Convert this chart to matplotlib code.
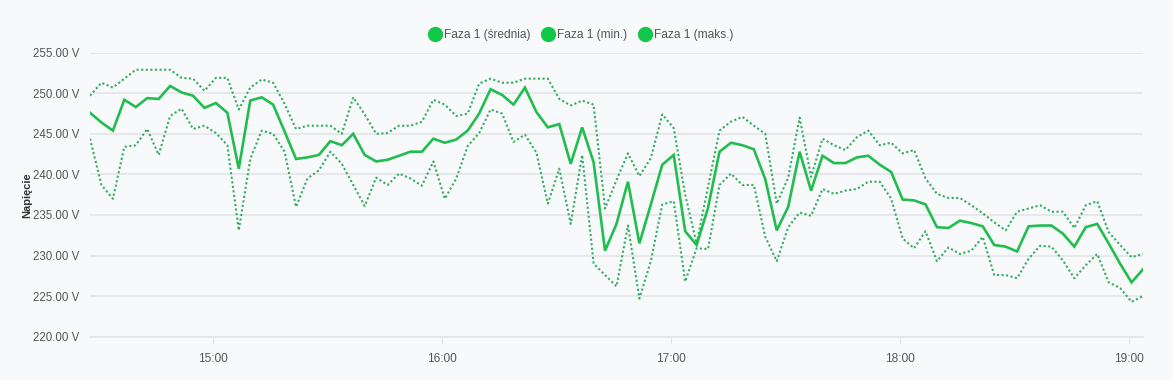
import matplotlib
matplotlib.use("Agg")
import matplotlib.pyplot as plt
from matplotlib.lines import Line2D
import pandas as pd

start_time = "2024-01-01 14:27:42"
n_points = 93
times = pd.date_range(start=start_time, periods=n_points, freq="3min")

mean_v = [247.6, 246.4, 245.4, 249.2, 248.3, 249.4, 249.3, 250.9, 250.1, 249.7,
          248.2, 248.8, 247.6, 240.7, 249.1, 249.5, 248.6, 245.3, 241.9, 242.1,
          242.4, 244.1, 243.6, 245.0, 242.4, 241.6, 241.8, 242.3, 242.8, 242.8,
          244.4, 243.9, 244.3, 245.4, 247.5, 250.5, 249.8, 248.6, 250.7, 247.7,
          245.8, 246.2, 241.3, 245.8, 241.5, 230.6, 233.9, 239.1, 231.5, 236.3,
          241.2, 242.4, 233.0, 231.3, 235.9, 242.8, 243.9, 243.6, 243.1, 239.4,
          233.1, 236.0, 242.8, 238.0, 242.3, 241.4, 241.4, 242.1, 242.3, 241.2,
          240.3, 236.9, 236.8, 236.3, 233.5, 233.4, 234.3, 234.0, 233.6, 231.3,
          231.1, 230.5, 233.6, 233.7, 233.7, 232.7, 231.1, 233.5, 233.9, 231.5,
          229.0, 226.7, 228.3]

max_v = [249.7, 251.3, 250.7, 251.8, 252.9, 252.9, 252.9, 252.9, 251.9, 251.8,
         250.3, 251.9, 251.9, 248.0, 250.7, 251.7, 251.3, 248.7, 245.6, 246.0,
         246.0, 246.0, 245.0, 249.5, 247.4, 245.0, 245.1, 246.0, 246.0, 246.5,
         249.2, 248.6, 247.2, 247.5, 251.2, 251.8, 251.3, 251.3, 251.8, 251.8,
         251.8, 249.3, 248.5, 249.1, 248.6, 235.8, 239.3, 242.6, 239.8, 242.0,
         247.4, 245.7, 237.5, 231.5, 238.5, 245.4, 246.5, 247.1, 246.0, 245.0,
         236.4, 239.6, 247.0, 239.7, 244.4, 243.6, 243.0, 244.6, 245.4, 243.6,
         243.9, 242.6, 243.0, 239.5, 237.6, 237.1, 237.1, 236.2, 235.2, 234.1,
         233.1, 235.4, 235.8, 236.2, 235.4, 235.4, 233.4, 236.2, 236.7, 232.9,
         231.3, 229.8, 230.2]

min_v = [244.4, 238.7, 237.0, 243.4, 243.6, 245.6, 242.4, 247.2, 248.1, 245.6,
         246.0, 245.1, 243.6, 233.1, 241.9, 245.4, 245.0, 242.8, 236.0, 239.5,
         240.5, 242.8, 241.3, 238.7, 236.1, 239.6, 238.7, 240.1, 239.5, 238.6,
         241.6, 237.0, 239.5, 243.5, 245.1, 248.0, 247.5, 244.0, 244.9, 242.7,
         236.4, 240.7, 233.9, 242.4, 229.0, 227.6, 226.2, 233.7, 224.7, 229.3,
         236.3, 236.7, 226.8, 230.9, 230.8, 238.7, 240.1, 238.7, 238.7, 232.3,
         229.3, 233.5, 235.3, 234.9, 238.2, 237.6, 238.0, 238.2, 239.1, 239.1,
         237.0, 232.1, 230.9, 233.0, 229.3, 231.0, 230.2, 230.6, 232.3, 227.6,
         227.6, 227.2, 229.6, 231.2, 231.1, 229.4, 227.2, 228.8, 230.2, 226.7,
         226.0, 224.3, 225.0]

series_labels = ["Faza 1 (średnia)", "Faza 1 (min.)", "Faza 1 (maks.)"]
y_ticks = [220, 225, 230, 235, 240, 245, 250, 255]
x_tick_labels = ["15:00", "16:00", "17:00", "18:00", "19:00"]
y_title = "Napięcie"

plt.rcParams['font.family'] = ['Liberation Sans', 'DejaVu Sans']

bg = "#f8f9fb"
line_col = "#22bd4f"
dot_col = "#2fae5c"
legend_col = "#12c84a"

fig = plt.figure(figsize=(11.73, 3.8), dpi=100, facecolor=bg)
ax = fig.add_axes([90/1173, 1-336.7/380, (1143-90)/1173, (336.7-52.7)/380])
ax.set_facecolor(bg)

ax.plot(times, max_v, color=dot_col, lw=1.5, linestyle=(0, (1, 1.2)))
ax.plot(times, min_v, color=dot_col, lw=1.5, linestyle=(0, (1, 1.2)))
ax.plot(times, mean_v, color=line_col, lw=1.9, solid_joinstyle='miter')

ax.set_ylim(220, 255)
ax.set_xlim(times[0], times[-1])
ax.set_yticks(y_ticks)
ax.set_yticklabels([f"{v:.2f} V" for v in y_ticks])
ax.grid(axis='y', color='#e3e4e7', lw=1.1)
ax.set_axisbelow(True)

tick_pos = [pd.Timestamp("2024-01-01 " + t) for t in x_tick_labels]
ax.set_xticks(tick_pos)
ax.set_xticklabels(x_tick_labels)

for s in ['top', 'right', 'left']:
    ax.spines[s].set_visible(False)
ax.spines['bottom'].set_color('#e3e4e7')
ax.spines['bottom'].set_linewidth(1.1)

ax.tick_params(axis='y', length=0, pad=8, labelsize=8.3, labelcolor='#555555')
ax.tick_params(axis='x', length=5, width=0.8, color='#e3e4e7', pad=7,
               labelsize=8.6, labelcolor='#555555')

ax.set_ylabel(y_title, fontsize=8, fontweight='bold', color='#333333', labelpad=0.5)

handles = [Line2D([0], [0], marker='o', color='none', markerfacecolor=legend_col,
                  markeredgecolor=legend_col, markersize=10) for _ in series_labels]
fig.legend(handles, series_labels, loc='center', bbox_to_anchor=(0.4955, 1-35/380),
           ncol=3, frameon=False, fontsize=8.6, handletextpad=0.27, columnspacing=0.95,
           handlelength=1.0, labelcolor='#555555')

fig.savefig("out.png", dpi=100, facecolor=bg)
